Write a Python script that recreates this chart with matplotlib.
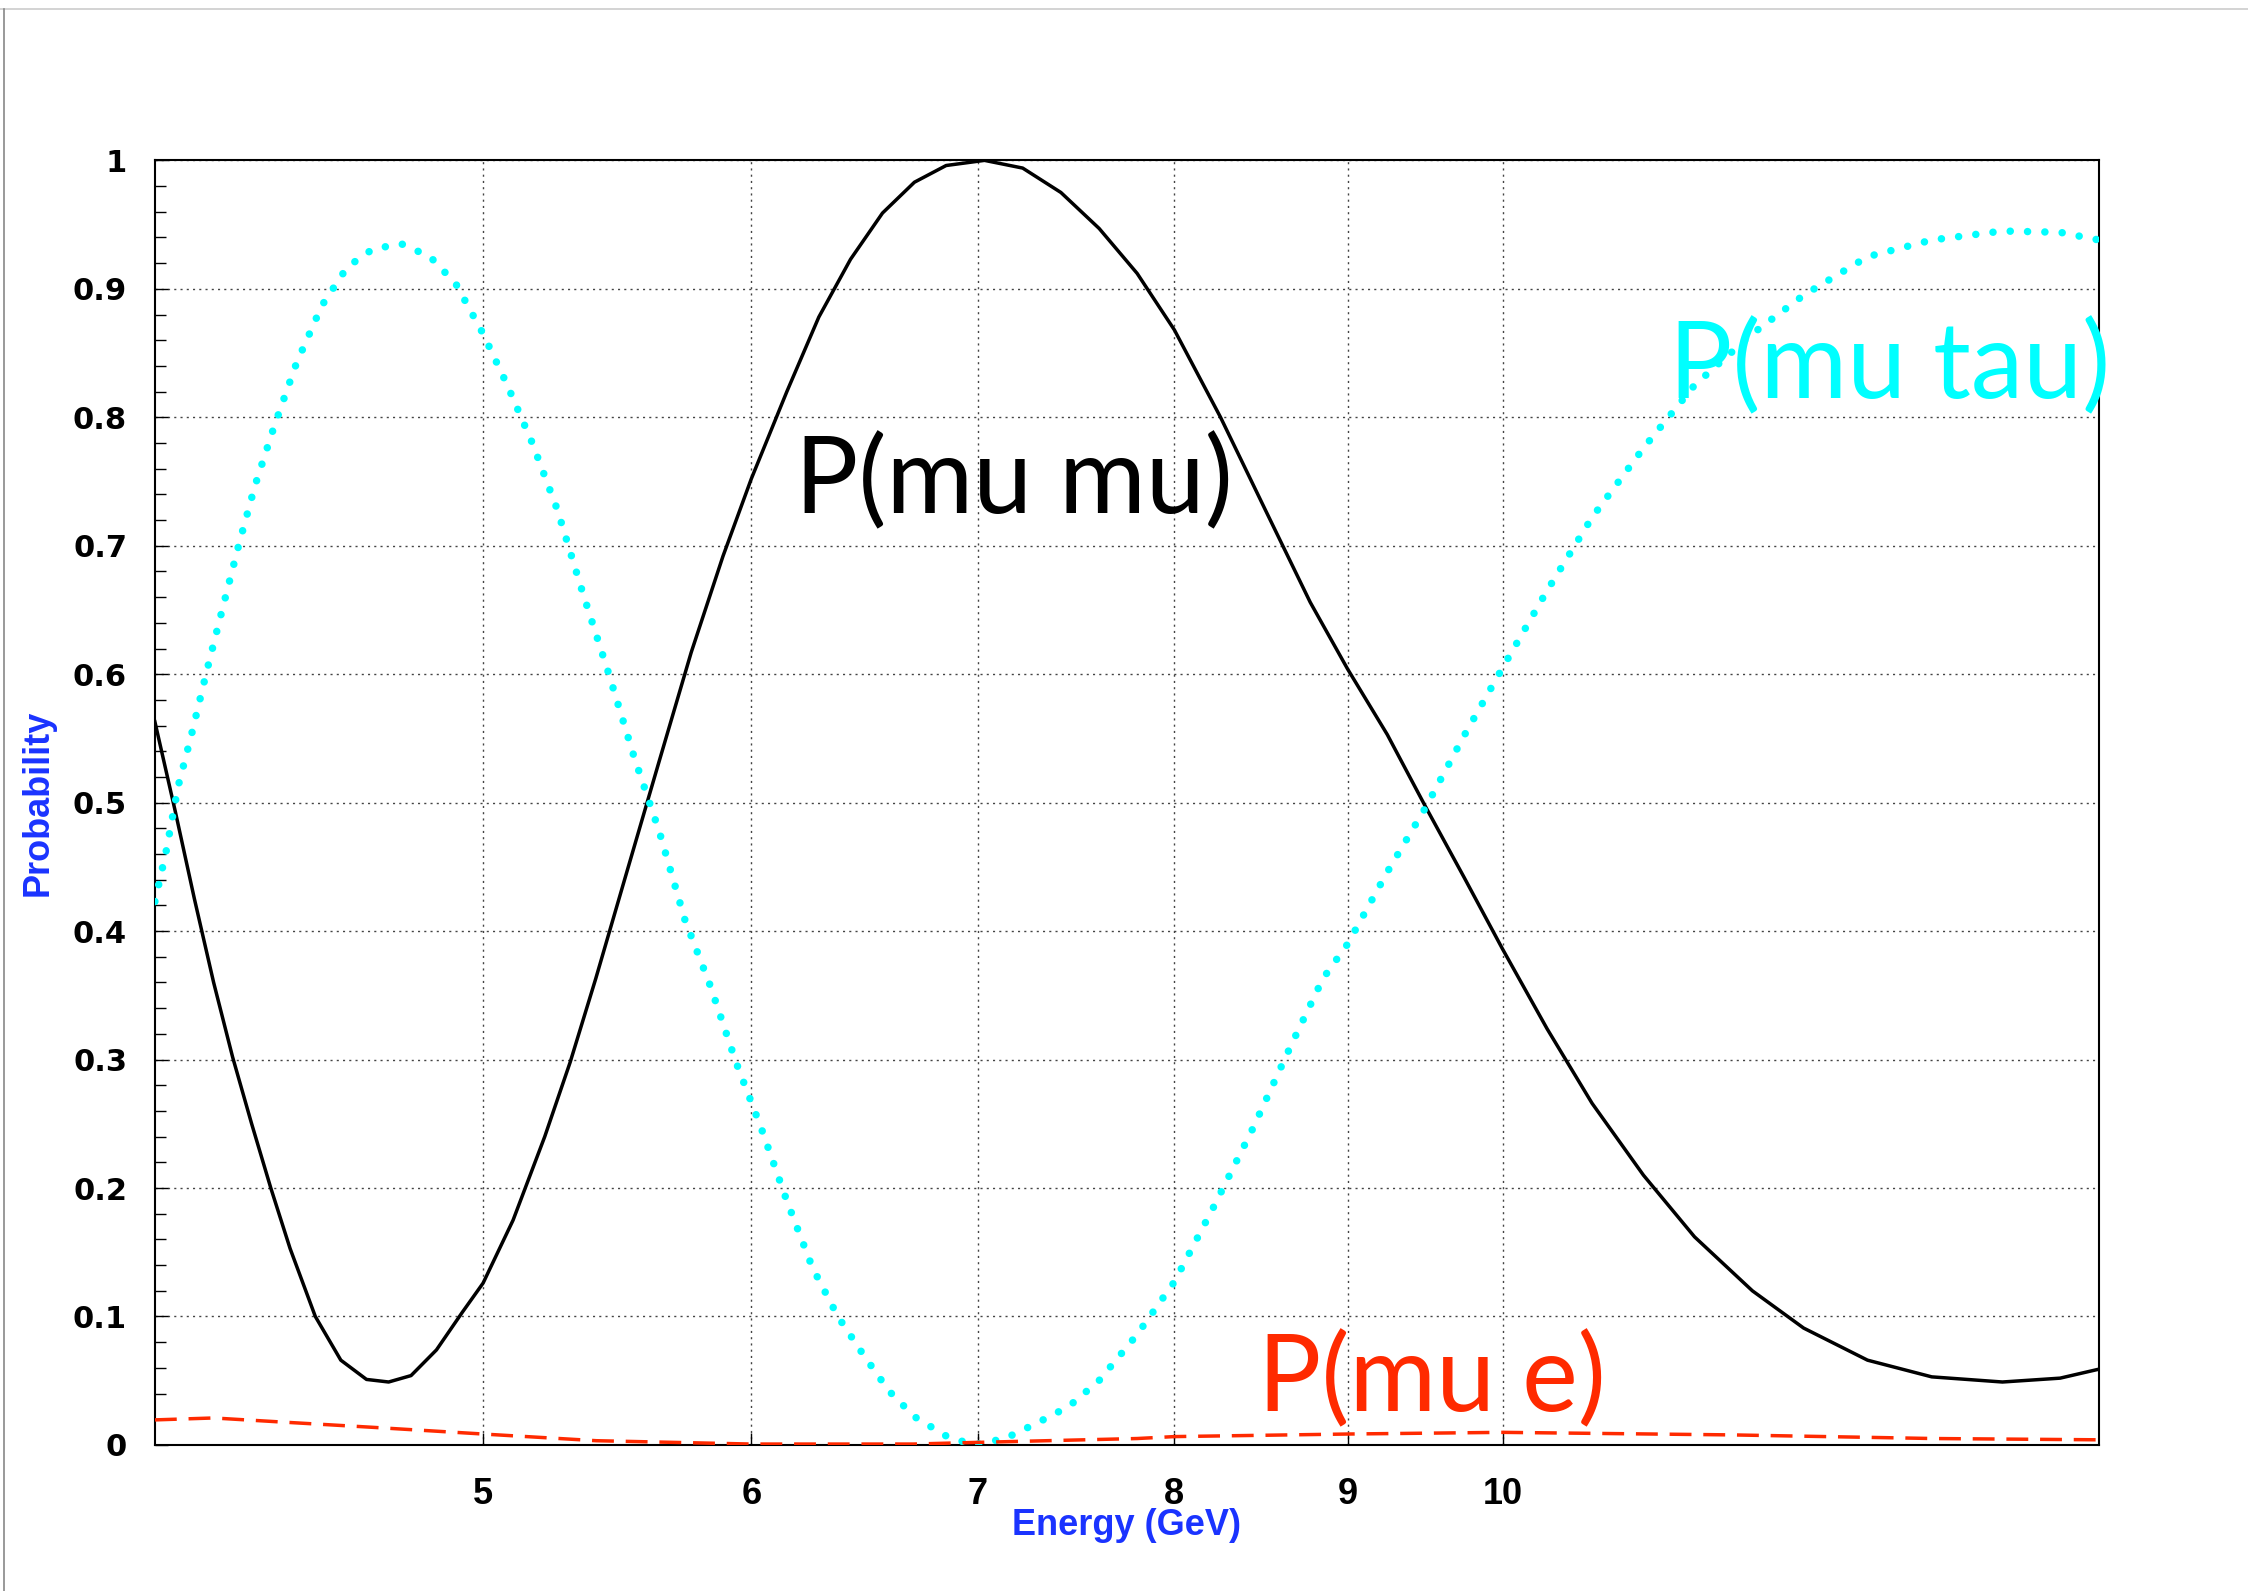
import numpy as np
import matplotlib
matplotlib.use("Agg")
from matplotlib import pyplot as plt
from matplotlib import font_manager
from matplotlib.lines import Line2D
from matplotlib.ticker import FixedLocator, NullLocator, MultipleLocator, NullFormatter

# values (energy in GeV, log axis)
e_mumu = [4.000, 4.056, 4.109, 4.163, 4.217, 4.272, 4.328, 4.385, 4.461, 4.539, 4.619, 4.689,
          4.761, 4.844, 4.929, 5.000, 5.103, 5.214, 5.305, 5.398, 5.516, 5.637, 5.760, 5.886,
          6.000, 6.147, 6.282, 6.419, 6.560, 6.704, 6.850, 7.031, 7.216, 7.406, 7.601, 7.800,
          8.000, 8.255, 8.510, 8.774, 9.000, 9.246, 9.489, 9.741, 10.00, 10.307, 10.627,
          11.005, 11.394, 11.851, 12.271, 12.816, 13.388, 14.047, 14.609, 15.0]
p_mumu = [0.563, 0.493, 0.425, 0.360, 0.302, 0.250, 0.200, 0.153, 0.100, 0.066, 0.051, 0.049,
          0.054, 0.074, 0.103, 0.126, 0.175, 0.240, 0.298, 0.363, 0.448, 0.533, 0.617, 0.692,
          0.752, 0.820, 0.878, 0.923, 0.959, 0.983, 0.996, 1.000, 0.994, 0.975, 0.947, 0.912,
          0.868, 0.800, 0.728, 0.656, 0.604, 0.553, 0.497, 0.442, 0.386, 0.324, 0.266,
          0.210, 0.162, 0.120, 0.091, 0.066, 0.053, 0.049, 0.052, 0.059]

e_mutau = [4.000, 4.030, 4.064, 4.100, 4.145, 4.190, 4.236, 4.282, 4.338, 4.404, 4.481, 4.559,
           4.639, 4.730, 4.823, 4.908, 5.000, 5.081, 5.170, 5.259, 5.351, 5.445, 5.540, 5.637,
           5.735, 5.836, 5.938, 6.042, 6.147, 6.255, 6.364, 6.476, 6.589, 6.704, 6.850, 6.977,
           7.130, 7.286, 7.446, 7.600, 7.800, 8.000, 8.219, 8.437, 8.660, 8.850, 9.000, 9.246,
           9.489, 9.741, 10.00, 10.307, 10.627, 11.005, 11.394, 11.851, 12.271, 12.816,
           13.388, 14.047, 14.609, 15.0]
p_mutau = [0.423, 0.461, 0.513, 0.552, 0.604, 0.653, 0.702, 0.747, 0.793, 0.842, 0.887, 0.917,
           0.931, 0.935, 0.925, 0.904, 0.865, 0.826, 0.780, 0.728, 0.663, 0.601, 0.536, 0.477,
           0.409, 0.357, 0.298, 0.246, 0.190, 0.138, 0.100, 0.070, 0.042, 0.022, 0.007, 0.000,
           0.005, 0.017, 0.030, 0.050, 0.086, 0.127, 0.186, 0.246, 0.311, 0.363, 0.390, 0.446,
           0.496, 0.552, 0.605, 0.665, 0.722, 0.776, 0.825, 0.865, 0.895, 0.925,
           0.938, 0.945, 0.944, 0.938]

e_mue = [4.000, 4.163, 4.350, 4.640, 5.000, 5.400, 6.000, 6.700, 7.000, 7.800, 8.000, 9.000,
         10.00, 11.70, 13.40, 15.0]
p_mue = [0.0195, 0.021, 0.018, 0.0137, 0.0085, 0.0033, 0.0007, 0.0007, 0.002, 0.005, 0.0065,
         0.0085, 0.0098, 0.0078, 0.005, 0.004]

xticks = [5, 6, 7, 8, 9, 10]
yticks = [0, 0.1, 0.2, 0.3, 0.4, 0.5, 0.6, 0.7, 0.8, 0.9, 1.0]
ytick_labels = ['0', '0.1', '0.2', '0.3', '0.4', '0.5', '0.6', '0.7', '0.8', '0.9', '1']

RED = '#ff2a00'
CYAN = '#00ffff'
BLUE = '#1a33ff'

names = {f.name for f in font_manager.fontManager.ttflist}
narrow = 'Liberation Sans Narrow' if 'Liberation Sans Narrow' in names else 'Liberation Sans'

fig = plt.figure(figsize=(22.48, 15.91), dpi=100)
ax = fig.add_axes([0.0689, 0.0918, 0.8648, 0.8074])

ax.plot(e_mumu, p_mumu, color='black', lw=2.5, zorder=3)
ax.plot(e_mutau, p_mutau, color=CYAN, lw=5.4, linestyle=(0, (0.01, 2.3)),
        dash_capstyle='round', zorder=3)
ax.plot(e_mue, p_mue, color=RED, lw=2.5, linestyle=(0, (6.3, 3.4)), zorder=3)

ax.set_xscale('log')
ax.set_xlim(4, 15)
ax.set_ylim(0, 1)

ax.xaxis.set_major_locator(FixedLocator(xticks))
ax.xaxis.set_minor_locator(NullLocator())
ax.xaxis.set_minor_formatter(NullFormatter())
ax.set_xticklabels([str(t) for t in xticks])
ax.set_yticks(yticks)
ax.set_yticklabels(ytick_labels)
ax.yaxis.set_minor_locator(MultipleLocator(0.02))

ax.tick_params(axis='both', which='both', direction='in', top=False, right=False)
ax.tick_params(axis='y', which='major', length=9, width=1, pad=20)
ax.tick_params(axis='y', which='minor', length=8, width=1)
ax.tick_params(axis='x', which='major', length=9, width=1, pad=23)

for lab in ax.get_yticklabels():
    lab.set_fontfamily('DejaVu Sans')
    lab.set_fontweight('bold')
    lab.set_fontsize(22)
for lab in ax.get_xticklabels():
    lab.set_fontfamily(narrow)
    lab.set_fontweight('bold')
    lab.set_fontsize(26)

ax.grid(True, which='major', color='#444444', linestyle=(0, (1.5, 3)), lw=1)
for s in ax.spines.values():
    s.set_linewidth(1.5)

ax.set_xlabel('Energy (GeV)', color=BLUE, fontsize=26, fontweight='bold', family=narrow)
ax.set_ylabel('Probability', color=BLUE, fontsize=26, fontweight='bold', family=narrow)
ax.xaxis.set_label_coords(0.5, -0.049)
ax.yaxis.set_label_coords(-0.051, 0.5)

ax.text(6.18, 0.725, 'P(mu mu)', color='black', fontsize=76, family='Lato', zorder=4)
ax.text(11.2, 0.815, 'P(mu tau)', color=CYAN, fontsize=76, family='Lato', zorder=4,
        clip_on=False)
ax.text(8.47, 0.026, 'P(mu e)', color=RED, fontsize=76, family='Lato', zorder=4)

# thin page border seen in the reference
fig.add_artist(Line2D([0, 1], [1 - 9 / 1591, 1 - 9 / 1591], color='#cccccc', lw=1.2))
fig.add_artist(Line2D([4 / 2248, 4 / 2248], [0, 1 - 9 / 1591], color='#888888', lw=1.2))

fig.savefig('out.png', dpi=100)
